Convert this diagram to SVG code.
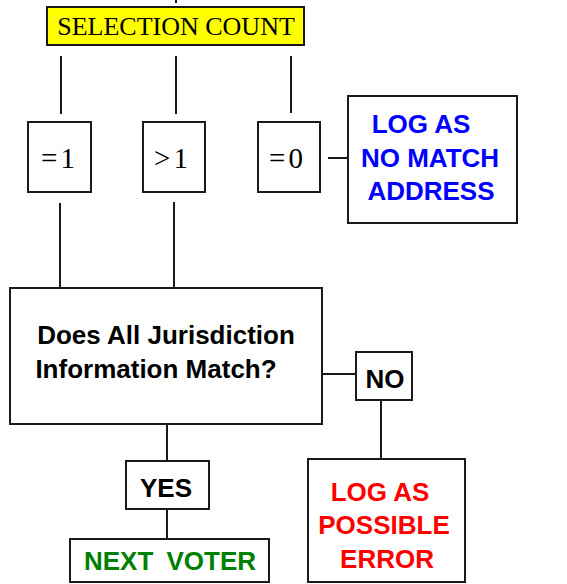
<svg xmlns="http://www.w3.org/2000/svg" width="567" height="584" viewBox="0 0 567 584">
<style>
.box{fill:#fff;stroke:#1a1a1a;stroke-width:2}
.ln{stroke:#1a1a1a;stroke-width:2;fill:none}
.tm{font-family:"Liberation Serif",serif;font-size:26px;fill:#000;text-anchor:middle}
.num{font-family:"Liberation Serif",serif;font-size:29px;fill:#000;text-anchor:middle}
.ar{font-family:"Liberation Sans",Arial,sans-serif;font-weight:bold;font-size:26px;text-anchor:middle}
</style>
<rect width="567" height="584" fill="#fff"/>
<g id="connectors">
<line class="ln" x1="176" y1="0" x2="176" y2="3"/>
<line class="ln" x1="61" y1="56" x2="61" y2="114"/>
<line class="ln" x1="176" y1="56" x2="176" y2="114"/>
<line class="ln" x1="291" y1="56" x2="291" y2="113"/>
<line class="ln" x1="328" y1="158" x2="348" y2="158"/>
<line class="ln" x1="60" y1="203" x2="60" y2="288"/>
<line class="ln" x1="174" y1="202" x2="174" y2="288"/>
<line class="ln" x1="322" y1="374" x2="356" y2="374"/>
<line class="ln" x1="381" y1="400" x2="381" y2="459"/>
<line class="ln" x1="167" y1="424" x2="167" y2="461"/>
<line class="ln" x1="167" y1="509" x2="167" y2="539"/>
</g>
<g id="selection-count">
<rect x="47" y="7" width="257" height="38" fill="#ffff00" stroke="#1a1a1a" stroke-width="2"/>
<text class="tm" x="176" y="35">SELECTION COUNT</text>
</g>
<g id="eq1">
<rect class="box" x="28" y="122" width="63" height="70"/>
<text class="num" x="58" y="168">=<tspan dx="3">1</tspan></text>
</g>
<g id="gt1">
<rect class="box" x="143" y="122" width="62" height="70"/>
<text class="num" x="171" y="168">&gt;<tspan dx="3">1</tspan></text>
</g>
<g id="eq0">
<rect class="box" x="258" y="122" width="62" height="70"/>
<text class="num" x="286" y="168">=<tspan dx="3">0</tspan></text>
</g>
<g id="log-no-match">
<rect class="box" x="348" y="96" width="169" height="127"/>
<text class="ar" fill="#0000ff" x="421" y="133">LOG AS</text>
<text class="ar" fill="#0000ff" x="430" y="167">NO MATCH</text>
<text class="ar" fill="#0000ff" x="431" y="200">ADDRESS</text>
</g>
<g id="jurisdiction">
<rect class="box" x="10" y="288" width="312" height="136"/>
<text class="ar" fill="#000" x="166" y="344" font-size="25">Does All Jurisdiction</text>
<text class="ar" fill="#000" x="156" y="378" font-size="25">Information Match?</text>
</g>
<g id="no">
<rect class="box" x="356" y="352" width="56" height="48"/>
<text class="ar" fill="#000" x="385" y="388" font-size="25">NO</text>
</g>
<g id="log-error">
<rect class="box" x="308" y="459" width="157" height="123"/>
<text class="ar" fill="#ff0000" x="380" y="501">LOG AS</text>
<text class="ar" fill="#ff0000" x="384" y="534">POSSIBLE</text>
<text class="ar" fill="#ff0000" x="387" y="568">ERROR</text>
</g>
<g id="yes">
<rect class="box" x="126" y="461" width="83" height="48"/>
<text class="ar" fill="#000" x="166" y="497">YES</text>
</g>
<g id="next-voter">
<rect class="box" x="70" y="539" width="199" height="43"/>
<text class="ar" fill="#008000" x="170" y="570" word-spacing="6">NEXT VOTER</text>
</g>
</svg>
